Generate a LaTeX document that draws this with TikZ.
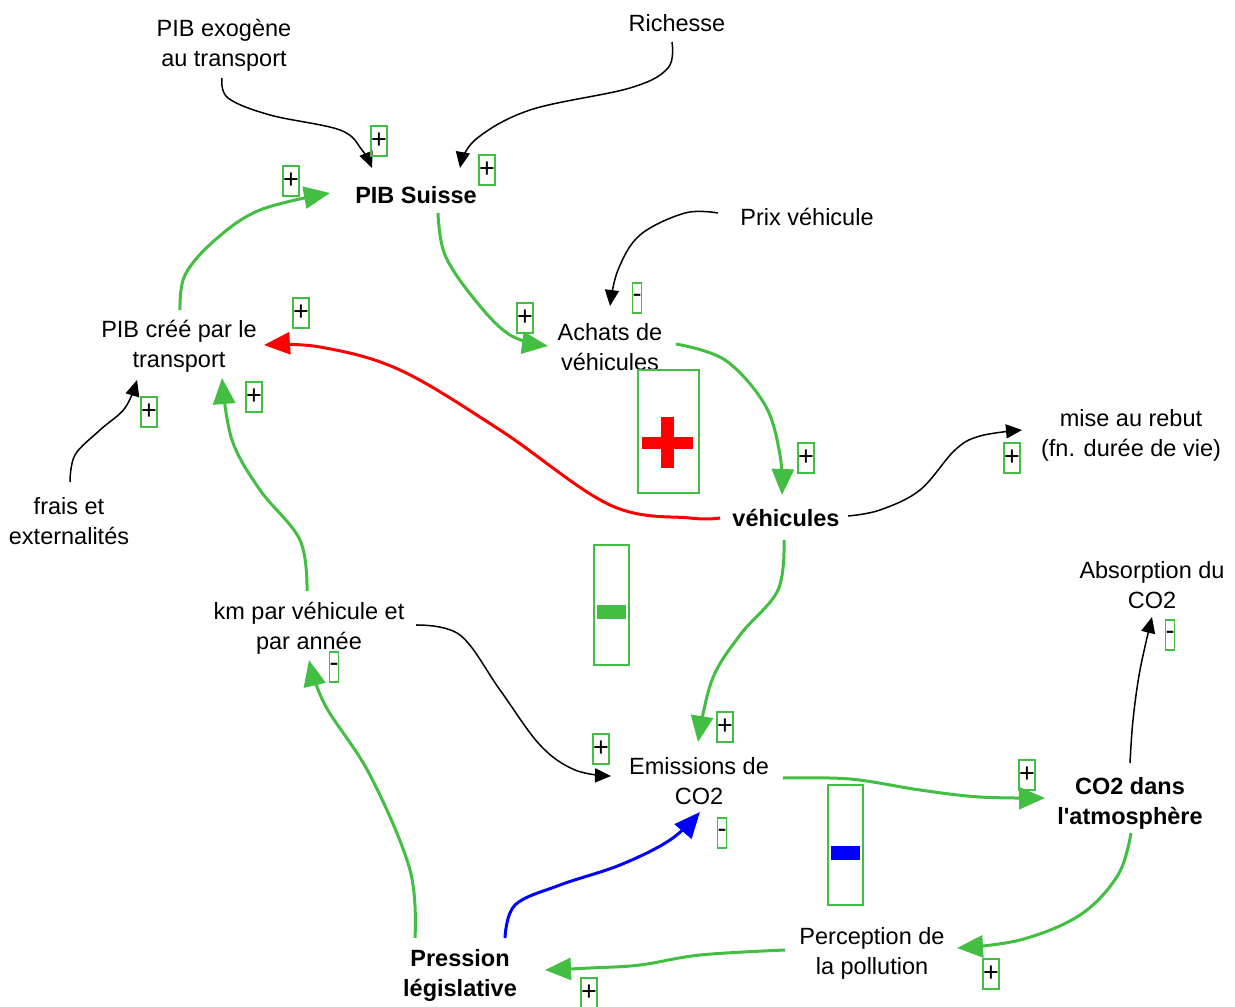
\documentclass[tikz,border=0pt]{standalone}
\usepackage{fontspec}
\setmainfont{Liberation Sans}[Ligatures=TeXOff]
\usetikzlibrary{arrows.meta,calc}
\definecolor{lgreen}{RGB}{66,190,66}
\begin{document}
\begin{tikzpicture}[x=1pt,y=-1pt,
  lbl/.style={align=center,inner sep=0pt,font=\fontsize{23.5}{30}\selectfont},
  blbl/.style={lbl,font=\fontsize{23.5}{30}\selectfont\bfseries},
  plusbox/.style={draw=lgreen,line width=1.5pt,minimum width=16pt,minimum height=30pt,inner sep=0pt,font=\fontsize{27}{27}\selectfont},
  minusbox/.style={plusbox,minimum width=9pt},
  blk/.style={line width=1.5pt,-{Triangle[length=16pt,width=14pt]}},
  grn/.style={draw=lgreen,line width=3pt,-{Triangle[length=26pt,width=22pt]}},
  rd/.style={draw=red,line width=3pt,-{Triangle[length=26pt,width=22pt]}},
  bl/.style={draw=blue,line width=3pt,-{Triangle[length=26pt,width=22pt]}},
  bigbox/.style={draw=lgreen,line width=1.5pt}
]
\useasboundingbox (0,0) rectangle (1235,1007);
\fill[white] (0,0) rectangle (1235,1007);

% text nodes
\node[lbl] (exo) at (224,45) {PIB exogène\\au transport};
\node[lbl] (rich) at (677,23) {Richesse};
\node[blbl] (pibs) at (416,195) {PIB Suisse};
\node[lbl] (prix) at (807,217) {Prix véhicule};
\node[lbl] (pibt) at (179,346) {PIB créé par le\\transport};
\node[lbl] (achats) at (610,347) {Achats de\\véhicules};
\node[lbl] (rebut) at (1131,435) {mise au rebut\\(fn. durée de vie)};
\node[lbl] (frais) at (69,521) {frais et\\externalités};
\node[blbl] (veh) at (786,518) {véhicules};
\node[lbl] (absorp) at (1152,585) {Absorption du\\CO2};
\node[lbl] (km) at (309,628) {km par véhicule et\\par année};
\node[lbl] (emis) at (699,781) {Emissions de\\CO2};
\node[blbl] (co2) at (1130,803) {CO2 dans\\l'atmosphère};
\node[lbl] (percep) at (872,953) {Perception de\\la pollution};
\node[blbl] (press) at (460,975) {Pression\\législative};

% black connectors
\draw[blk] plot[smooth,tension=0.6] coordinates {($(exo)+(-2,33)$) (228,98) (270,115) (340,130) (362,150) ($(pibs)+(-44,-27)$)};
\draw[blk] plot[smooth,tension=0.6] coordinates {($(rich)+(-5,19)$) (668,68) (630,88) (530,110) (475,140) ($(pibs)+(44,-27)$)};
\draw[blk] plot[smooth,tension=0.6] coordinates {($(prix)+(-89,-4)$) (685,213) (640,235) (618,270) ($(achats)+(0,-41)$)};
\draw[blk] plot[smooth,tension=0.6] coordinates {($(frais)+(1,-39)$) (75,455) (100,430) (125,408) ($(pibt)+(-42,34)$)};
\draw[blk] plot[smooth,tension=0.6] coordinates {($(veh)+(62,-2)$) (880,510) (920,490) (955,450) (980,436) ($(rebut)+(-109,-5)$)};
\draw[blk] plot[smooth,tension=0.6] coordinates {($(km)+(107,-3)$) (460,635) (500,690) (540,745) (575,770) ($(emis)+(-88,-5)$)};
\draw[blk] plot[smooth,tension=0.6] coordinates {($(co2)+(0,-40)$) (1133,720) (1140,670) ($(absorp)+(0,32)$)};

% green connectors
\draw[grn] plot[smooth,tension=0.6] coordinates {($(pibt)+(1,-36)$) (185,275) (215,240) (260,210) ($(pibs)+(-86,-2)$)};
\draw[grn] plot[smooth,tension=0.6] coordinates {($(pibs)+(22,18)$) (445,255) (475,300) (510,335) ($(achats)+(-62,-1)$)};
\draw[grn] plot[smooth,tension=0.6] coordinates {($(achats)+(66,-3)$) (725,360) (765,405) (780,455) ($(veh)+(-4,-23)$)};
\draw[grn] plot[smooth,tension=0.6] coordinates {($(km)+(-2,-37)$) (300,540) (260,490) (232,440) ($(pibt)+(43,32)$)};
\draw[grn] plot[smooth,tension=0.6] coordinates {($(veh)+(-2,22)$) (778,590) (740,635) (712,680) ($(emis)+(-1,-39)$)};
\draw[grn] plot[smooth,tension=0.6] coordinates {($(emis)+(84,-3)$) (850,779) (920,790) (980,797) ($(co2)+(-85,-5)$)};
\draw[grn] plot[smooth,tension=0.6] coordinates {($(co2)+(1,30)$) (1118,875) (1080,915) (1020,940) ($(percep)+(85,-5)$)};
\draw[grn] plot[smooth,tension=0.6] coordinates {($(percep)+(-87,-3)$) (700,955) (640,965) (590,968) ($(press)+(85,-5)$)};
\draw[grn] plot[smooth,tension=0.6] coordinates {($(press)+(-45,-37)$) (410,870) (370,775) (325,705) ($(km)+(0,32)$)};

% red and blue connectors
\draw[rd] plot[smooth,tension=0.6] coordinates {($(veh)+(-66,0)$) (690,518) (610,505) (500,430) (400,370) (320,347) ($(pibt)+(85,-1)$)};
\draw[bl] plot[smooth,tension=0.6] coordinates {($(press)+(45,-37)$) (515,905) (560,885) (620,865) (670,840) ($(emis)+(1,31)$)};

% sign boxes
\node[plusbox] (s1) at (379,141) {+};
\node[plusbox] (s2) at (487,170) {+};
\node[plusbox] (s3) at (291,181) {+};
\node[plusbox] (s4) at (301,313) {+};
\node[plusbox] (s5) at (525,318) {+};
\node[minusbox] (s6) at (637,298) {-};
\node[plusbox] (s7) at (149,412) {+};
\node[plusbox] (s8) at (254,397) {+};
\node[plusbox] (s9) at (806,458) {+};
\node[plusbox] (s10) at (1012,458) {+};
\node[minusbox] (s11) at (1170,635) {-};
\node[minusbox] (s12) at (334,667) {-};
\node[plusbox] (s13) at (725,727) {+};
\node[plusbox] (s14) at (601,749) {+};
\node[plusbox] (s15) at (1027,775) {+};
\node[minusbox] (s16) at (722,833) {-};
\node[plusbox] (s17) at (991,974) {+};
\node[plusbox] (s18) at (589,993) {+};

% loop polarity boxes
\node[bigbox,minimum width=61pt,minimum height=123pt,inner sep=0pt] (loopR) at (668.5,431.5) {};
\fill[red] (642,437) rectangle (693,449);
\fill[red] (661,417) rectangle (674,468);
\node[bigbox,minimum width=35pt,minimum height=120pt,inner sep=0pt] (loopG) at (611.5,605) {};
\fill[lgreen] (597,605) rectangle (626,619);
\node[bigbox,minimum width=35pt,minimum height=120pt,inner sep=0pt] (loopB) at (845.5,845) {};
\fill[blue] (831,846) rectangle (860,860);
\end{tikzpicture}
\end{document}
